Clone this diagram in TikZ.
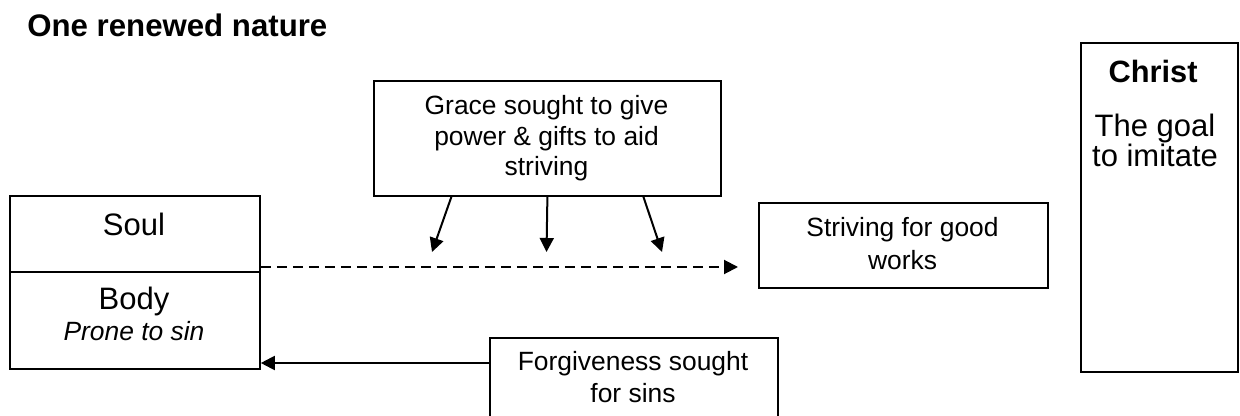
\documentclass[tikz,border=0pt]{standalone}
\usepackage{fontspec}
\setmainfont{Liberation Sans}
\usetikzlibrary{arrows.meta}

\begin{document}
\begin{tikzpicture}[x=0.5pt, y=-0.5pt,
		box/.style = {draw, line width=0.9pt, inner sep=0pt, anchor=north west},
		lbl/.style = {anchor=base, align=center, inner sep=0pt},
		big/.style = {font=\fontsize{15.5}{13.8}\selectfont},
		small/.style = {font=\fontsize{13.2}{15.5}\selectfont},
		link/.style = {line width=1pt, -{Triangle[length=7pt, width=7pt]}}]
		\clip (0,0) rectangle (1240,416);
		\node[lbl, anchor=base west, font=\bfseries\fontsize{15.6}{18}\selectfont] (title) at (27,37) {One renewed nature};
		% boxes
		\node[box, minimum width=125pt, minimum height=38pt] (soul) at (9,195) {};
		\node[box, minimum width=125pt, minimum height=48.5pt] (body) at (9,271) {};
		\node[box, minimum width=173.5pt, minimum height=57.5pt] (grace) at (373,80) {};
		\node[box, minimum width=144.5pt, minimum height=42.5pt] (works) at (758,202) {};
		\node[box, minimum width=78.5pt, minimum height=164.5pt] (christ) at (1080,42) {};
		\node[box, minimum width=144pt, minimum height=60pt] (forgive) at (489,337) {};
		% texts
		\node[lbl, big] (soultxt) at (134,236) {Soul};
		\node[lbl, big] (bodytxt) at (134,310) {Body};
		\node[lbl, small] (pronetxt) at (134,341) {\itshape Prone to sin};
		\node[lbl, small, font=\fontsize{13.2}{15.25}\selectfont] (gracetxt) at (546.5,176) {Grace sought to give\\power \& gifts to aid\\striving};
		\node[lbl, small, font=\fontsize{13.2}{16.5}\selectfont] (workstxt) at (902.5,270) {Striving for good\\works};
		\node[lbl, small, font=\fontsize{13.2}{16}\selectfont] (forgivetxt) at (633,402) {Forgiveness sought\\for sins};
		\node[lbl, big, font=\bfseries\fontsize{15.4}{13.8}\selectfont] (christtxt) at (1153,83) {Christ};
		\node[lbl, big] (goaltxt) at (1155,167) {The goal\\to imitate};
		% arrows
		\coordinate (dashend) at (738,267);
		\draw[link, dash pattern=on 5pt off 3pt] ([yshift=2pt]body.north east) -- (dashend);
		\coordinate (g1) at (432,252);
		\coordinate (g2) at (546.5,252);
		\coordinate (g3) at (662,252);
		\draw[link] ([xshift=-48pt]grace.south) -- (g1);
		\draw[link] (grace.south) -- (g2);
		\draw[link] ([xshift=48pt]grace.south) -- (g3);
		\coordinate (fstart) at ([yshift=-13pt]forgive.north west);
		\draw[link] (fstart) -- (fstart -| body.east);
	\end{tikzpicture}
\end{document}
